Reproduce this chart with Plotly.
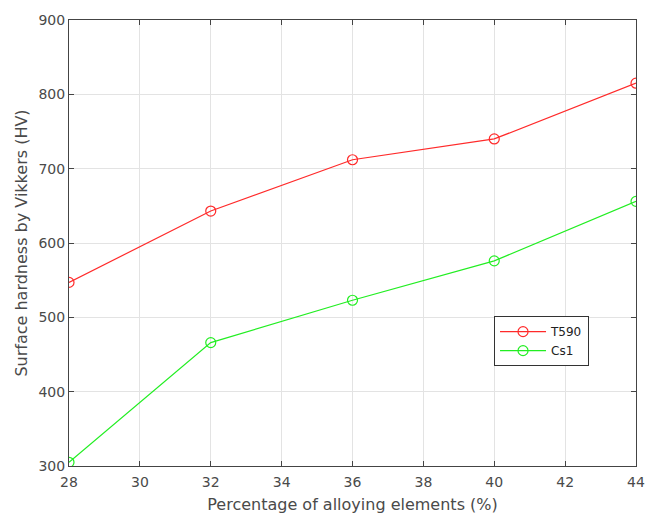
import plotly.graph_objects as go

x_vals = [28, 32, 36, 40, 44]
t590 = [547, 643, 712, 740, 815]
cs1 = [305, 466, 523, 576, 656]
x_ticks = [28, 30, 32, 34, 36, 38, 40, 42, 44]
y_ticks = [300, 400, 500, 600, 700, 800, 900]

FONT = "DejaVu Sans, Liberation Sans, Arial"

fig = go.Figure()
fig.add_trace(go.Scatter(x=x_vals, y=t590, mode="lines+markers", name="T590",
                         line=dict(color="#ff2a2a", width=1.2),
                         marker=dict(symbol="circle-open", size=10, color="#ff2a2a", line=dict(width=1.2))))
fig.add_trace(go.Scatter(x=x_vals, y=cs1, mode="lines+markers", name="Cs1",
                         line=dict(color="#22ee22", width=1.2),
                         marker=dict(symbol="circle-open", size=10, color="#22ee22", line=dict(width=1.2))))

axis_common = dict(showline=True, linecolor="#444", linewidth=1, mirror="ticks",
                   ticks="inside", ticklen=5, tickcolor="#444", automargin=False,
                   showgrid=True, gridcolor="#e3e3e3", gridwidth=1, zeroline=False,
                   tickfont=dict(family=FONT, size=14, color="#4a4a4a"))

fig.update_xaxes(range=[28, 44], tickvals=x_ticks, ticklabelstandoff=3,
                 title=dict(text="Percentage of alloying elements (%)", standoff=12,
                            font=dict(family=FONT, size=16, color="#4a4a4a")),
                 **axis_common)
fig.update_yaxes(range=[300, 900], tickvals=y_ticks,
                 title=dict(text="Surface hardness by Vikkers (HV)", standoff=6,
                            font=dict(family=FONT, size=16, color="#4a4a4a")),
                 **axis_common)

fig.update_layout(width=645, height=514, margin=dict(l=69, r=9, t=20, b=48),
                  plot_bgcolor="white", paper_bgcolor="white",
                  legend=dict(x=0.7496, y=0.336, xanchor="left", yanchor="top",
                              bgcolor="white", bordercolor="#333", borderwidth=1,
                              font=dict(family=FONT, size=12, color="#222"),
                              tracegroupgap=0, itemwidth=46))
fig.write_html("out.html", config={"displayModeBar": False},
               post_script="document.body.style.margin='0';document.body.style.overflow='hidden';")
